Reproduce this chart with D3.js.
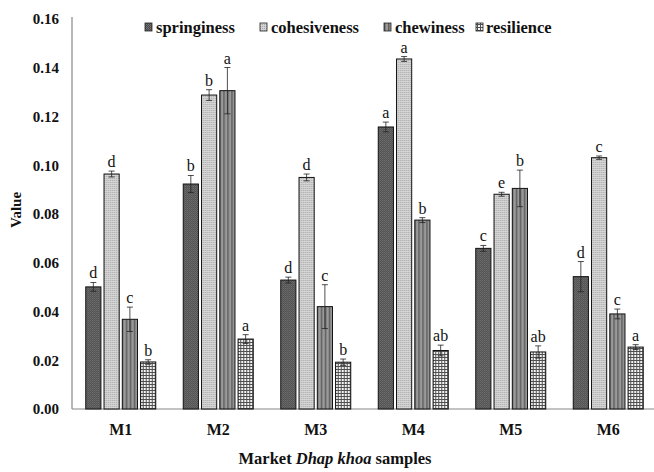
<!DOCTYPE html>
<html><head><meta charset="utf-8">
<script src="https://cdn.jsdelivr.net/npm/d3@7"></script>
<style>body{margin:0;background:#fff}svg{display:block}</style>
</head><body><div id="chart"></div>
<script>
const samples = ["M1","M2","M3","M4","M5","M6"];
const seriesNames = ["springiness","cohesiveness","chewiness","resilience"];
const springiness  = [0.0501,0.0923,0.0529,0.1157,0.0659,0.0543];
const cohesiveness = [0.0964,0.1288,0.0950,0.1436,0.0881,0.1031];
const chewiness    = [0.0368,0.1306,0.0420,0.0775,0.0905,0.0390];
const resilience   = [0.0193,0.0287,0.0192,0.0240,0.0234,0.0254];
const errSpring = [0.0018,0.0035,0.0012,0.0020,0.0012,0.0062];
const errCoh    = [0.0012,0.0022,0.0014,0.0010,0.0008,0.0007];
const errChew   = [0.0050,0.0095,0.0090,0.0010,0.0075,0.0020];
const errRes    = [0.0009,0.0018,0.0013,0.0022,0.0025,0.0010];
const lettersSpring = ["d","b","d","a","c","d"];
const lettersCoh    = ["d","b","d","a","e","c"];
const lettersChew   = ["c","a","c","b","b","c"];
const lettersRes    = ["b","a","b","ab","ab","a"];
const yTicks = [0,0.02,0.04,0.06,0.08,0.10,0.12,0.14,0.16];

const values = [springiness,cohesiveness,chewiness,resilience];
const errs = [errSpring,errCoh,errChew,errRes];
const letters = [lettersSpring,lettersCoh,lettersChew,lettersRes];

const W=654,H=472;
const svg=d3.select("#chart").append("svg").attr("width",W).attr("height",H);
const defs=svg.append("defs");
// patterns
const p1=defs.append("pattern").attr("id","pat0").attr("width",2).attr("height",2).attr("patternUnits","userSpaceOnUse");
p1.append("rect").attr("width",2).attr("height",2).attr("fill","#4a4a4a");
p1.append("rect").attr("width",1).attr("height",1).attr("fill","#7a7a7a");
p1.append("rect").attr("x",1).attr("y",1).attr("width",1).attr("height",1).attr("fill","#6a6a6a");
const p2=defs.append("pattern").attr("id","pat1").attr("width",2).attr("height",2).attr("patternUnits","userSpaceOnUse");
p2.append("rect").attr("width",2).attr("height",2).attr("fill","#d4d4d4");
p2.append("rect").attr("width",1).attr("height",1).attr("fill","#a8a8a8");
const p3=defs.append("pattern").attr("id","pat2").attr("width",4).attr("height",4).attr("patternUnits","userSpaceOnUse");
p3.append("rect").attr("width",4).attr("height",4).attr("fill","#9a9a9a");
p3.append("rect").attr("width",1.5).attr("height",4).attr("fill","#5e5e5e");
const p4=defs.append("pattern").attr("id","pat3").attr("width",3).attr("height",3).attr("patternUnits","userSpaceOnUse");
p4.append("rect").attr("width",3).attr("height",3).attr("fill","#f4f4f4");
p4.append("rect").attr("width",3).attr("height",1).attr("fill","#505050");
p4.append("rect").attr("width",1).attr("height",3).attr("fill","#505050");

const x0=d3.scaleBand().domain(samples).range([72,657]).paddingInner(0).paddingOuter(0);
const innerW=70;
const x1=d3.scaleBand().domain(seriesNames).range([0,innerW]).paddingInner(0.17);
const y=d3.scaleLinear().domain([0,0.16]).range([409,19]);

// y axis
const yAxis=d3.axisLeft(y).tickValues(yTicks).tickFormat(d3.format(".2f")).tickSize(0).tickPadding(13);
const gy=svg.append("g").attr("transform","translate(72,0)").call(yAxis);
gy.select(".domain").attr("stroke","#888").attr("stroke-width",1.2).attr("d","M0,17V409");
gy.selectAll("text").attr("font-family","Liberation Serif").attr("font-weight","bold").attr("font-size",15).attr("fill","#111");

// x axis
const xAxis=d3.axisBottom(x0).tickSize(0).tickPadding(15);
const gx=svg.append("g").attr("transform","translate(0,409)").call(xAxis);
gx.select(".domain").attr("stroke","#888").attr("stroke-width",1.2).attr("d","M72,0H654");
gx.selectAll("text").attr("font-family","Liberation Serif").attr("font-weight","bold").attr("font-size",16).attr("fill","#111");

// bars
samples.forEach((s,i)=>{
  const g=svg.append("g").attr("transform",`translate(${x0(s)+(x0.bandwidth()-innerW)/2},0)`);
  seriesNames.forEach((n,j)=>{
    const v=values[j][i], e=errs[j][i];
    const bx=x1(n), bw=x1.bandwidth();
    g.append("rect").attr("x",bx).attr("y",y(v)).attr("width",bw).attr("height",y(0)-y(v))
      .attr("fill",`url(#pat${j})`).attr("stroke","#111").attr("stroke-width",1);
    const cx=bx+bw/2;
    g.append("line").attr("x1",cx).attr("x2",cx).attr("y1",y(v-e)).attr("y2",y(v+e)).attr("stroke","#222").attr("stroke-width",0.8);
    [v-e,v+e].forEach(t=>g.append("line").attr("x1",cx-3).attr("x2",cx+3).attr("y1",y(t)).attr("y2",y(t)).attr("stroke","#222").attr("stroke-width",0.8));
    g.append("text").attr("x",cx).attr("y",y(v+e)-4).attr("text-anchor","middle")
      .attr("font-family","Liberation Serif").attr("font-size",16).attr("fill","#111").text(letters[j][i]);
  });
});

// legend
const lg=svg.append("g");
const sqX=[145,260,384,476];
const txX=[156,271,395,486];
seriesNames.forEach((n,j)=>{
  lg.append("rect").attr("x",sqX[j]).attr("y",23).attr("width",7).attr("height",8)
    .attr("fill",`url(#pat${j})`).attr("stroke","#222").attr("stroke-width",0.8);
  lg.append("text").attr("x",txX[j]).attr("y",33).attr("font-family","Liberation Serif")
    .attr("font-weight","bold").attr("font-size",16.5).attr("fill","#111").text(n);
});

// axis titles
svg.append("text").attr("transform","translate(21,210) rotate(-90)").attr("text-anchor","middle")
  .attr("font-family","Liberation Serif").attr("font-weight","bold").attr("font-size",15).attr("fill","#111").text("Value");
const t=svg.append("text").attr("x",335).attr("y",464).attr("text-anchor","middle")
  .attr("font-family","Liberation Serif").attr("font-weight","bold").attr("font-size",16.5).attr("fill","#111");
t.append("tspan").text("Market ");
t.append("tspan").attr("font-style","italic").text("Dhap khoa");
t.append("tspan").text(" samples");
</script></body></html>
